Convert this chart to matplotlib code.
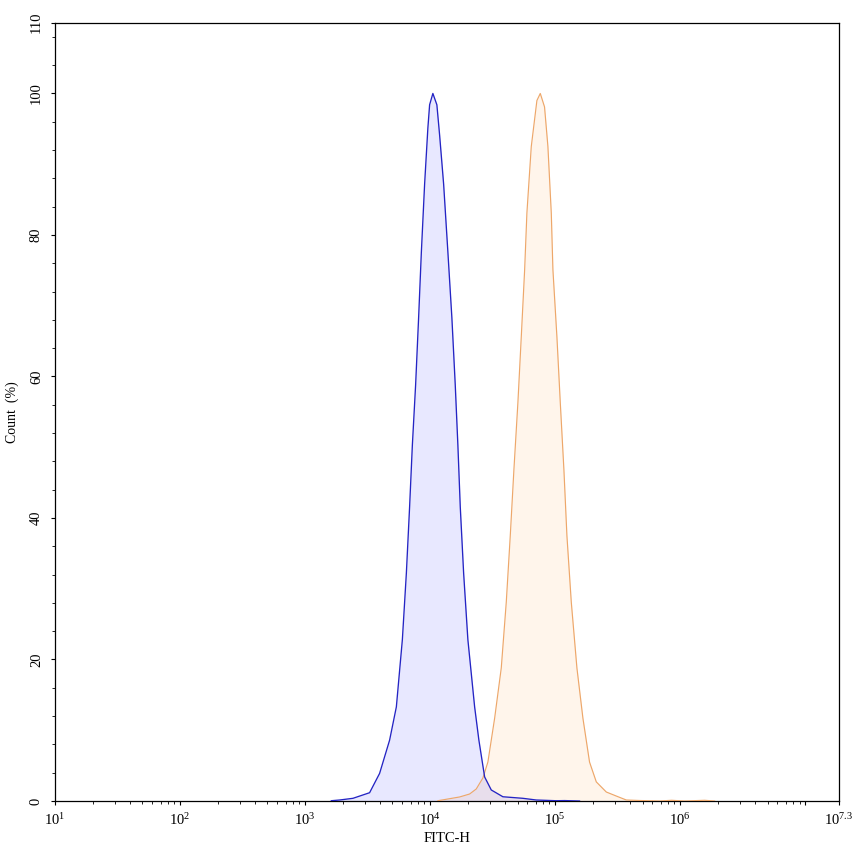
import numpy as np
import matplotlib
matplotlib.use("Agg")
import matplotlib.pyplot as plt
from matplotlib.ticker import FixedLocator, FixedFormatter, MultipleLocator, LogLocator, NullFormatter

plt.rcParams['font.family'] = ['Liberation Serif', 'DejaVu Serif']
plt.rcParams['mathtext.default'] = 'regular'

# ---- data (log10 of FITC-H, Count %) ----
blue_log = [3.210, 3.276, 3.383, 3.516, 3.596, 3.676, 3.730, 3.778, 3.810, 3.836,
            3.858, 3.884, 3.908, 3.930, 3.956, 3.982, 3.996, 4.022, 4.054, 4.076,
            4.108, 4.142, 4.174, 4.201, 4.222, 4.241, 4.268, 4.302, 4.356, 4.390,
            4.436, 4.489, 4.582, 4.742, 4.849, 5.009, 5.075, 5.195]
blue_cnt = [0.04, 0.14, 0.38, 1.17, 3.9, 8.6, 13.3, 22.8, 32.2, 41.6,
            50.3, 58.8, 68.3, 77.6, 87.2, 95.1, 98.4, 100.0, 98.4, 94.1,
            87.2, 77.6, 68.3, 58.8, 50.3, 41.6, 32.2, 22.8, 13.3, 8.6,
            3.4, 1.56, 0.6, 0.38, 0.14, 0.04, 0.06, 0.0]

orange_log = [4.062, 4.236, 4.316, 4.369, 4.422, 4.462, 4.516, 4.569, 4.609, 4.641,
              4.670, 4.702, 4.729, 4.756, 4.774, 4.809, 4.854, 4.881, 4.915, 4.942,
              4.969, 4.982, 5.014, 5.041, 5.070, 5.094, 5.129, 5.174, 5.222, 5.275,
              5.329, 5.409, 5.489, 5.569, 5.675, 5.835, 5.931, 6.035, 6.195, 6.275]
orange_cnt = [0.04, 0.57, 0.99, 1.7, 3.25, 5.5, 11.7, 18.8, 28.1, 37.5,
              46.8, 56.3, 65.6, 75.1, 83.1, 92.5, 99.0, 100.0, 98.1, 92.5,
              83.1, 75.1, 65.6, 56.3, 46.8, 37.5, 28.1, 18.8, 11.7, 5.5,
              2.7, 1.27, 0.7, 0.14, 0.07, 0.0, 0.1, 0.0, 0.1, 0.0]

x_major_exp = [1, 2, 3, 4, 5, 6, 7, 7.27]
x_major_labels = ['$10^{1}$', '$10^{2}$', '$10^{3}$', '$10^{4}$', '$10^{5}$',
                  '$10^{6}$', '', '$10^{7.3}$']
y_major = [0, 20, 40, 60, 80, 100, 110]
y_labels = ['0', '20', '40', '60', '80', '100', '110']

W, H = 853, 856
fig = plt.figure(figsize=(W / 100, H / 100), dpi=100)
ax = fig.add_axes([55 / W, (H - 801) / H, (839 - 55) / W, (801 - 22.7) / H])

bx = 10 ** np.array(blue_log)
ox = 10 ** np.array(orange_log)

ax.fill_between(ox, orange_cnt, 0, color='#fff5eb', linewidth=0, zorder=1)
ax.plot(ox, orange_cnt, color='#eda76a', linewidth=0.85, zorder=3)
ax.fill_between(bx, blue_cnt, 0, color='#0000ff', alpha=0.09, linewidth=0, zorder=2)
ax.plot(bx, blue_cnt, color='#2424c4', linewidth=0.95, zorder=4)

ax.set_xscale('log')
ax.set_xlim(10 ** 1, 10 ** 7.27)
ax.set_ylim(0, 110)

ax.xaxis.set_major_locator(FixedLocator([10 ** e for e in x_major_exp]))
ax.xaxis.set_major_formatter(FixedFormatter(x_major_labels))
ax.xaxis.set_minor_locator(LogLocator(base=10, subs=np.arange(2, 10), numticks=50))
ax.xaxis.set_minor_formatter(NullFormatter())

ax.yaxis.set_major_locator(FixedLocator(y_major))
ax.yaxis.set_major_formatter(FixedFormatter(y_labels))
ax.yaxis.set_minor_locator(MultipleLocator(4))

ax.tick_params(axis='both', which='major', direction='out', length=3.2, width=0.8,
               labelsize=10.5, colors='black')
ax.tick_params(axis='both', which='minor', direction='out', length=2.0, width=0.6)
ax.tick_params(axis='x', which='major', pad=4.5)
ax.tick_params(axis='y', which='major', pad=5.5)
for lab in ax.get_yticklabels():
    lab.set_rotation(90)
    lab.set_va('center')

for s in ax.spines.values():
    s.set_linewidth(0.9)
    s.set_color('black')

ax.set_xlabel('FITC-H', fontsize=10.5, labelpad=3)
ax.set_ylabel('Count  (%)', fontsize=10, labelpad=8)

fig.savefig('out.png', dpi=100)
